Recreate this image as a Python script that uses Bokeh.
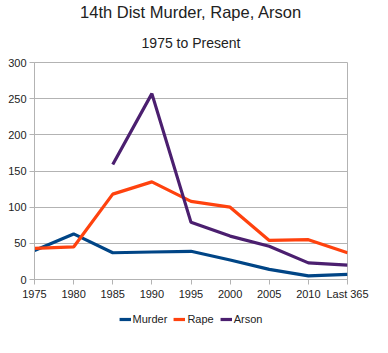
import math
from bokeh.plotting import figure
from bokeh.layouts import column
from bokeh.models import Title, Legend, LegendItem, FixedTicker, Range1d
from bokeh.embed import file_html
from bokeh.resources import INLINE

categories = ["1975", "1980", "1985", "1990", "1995", "2000", "2005", "2010", "Last 365"]
murder = [40, 63, 37, 38, 39, 27, 14, 5, 7]
rape = [43, 45, 118, 135, 108, 100, 54, 55, 37]
arson = [None, None, 159, 257, 79, 60, 46, 23, 20]
y_ticks = [0, 50, 100, 150, 200, 250, 300]
series_names = ["Murder", "Rape", "Arson"]
series_colors = ["#004586", "#ff420e", "#4b1f6f"]

xs = list(range(len(categories)))
arson_f = [float("nan") if v is None else v for v in arson]
series = [murder, rape, arson_f]

FONT = "Liberation Sans"
GRID = "#b3b3b3"
TXT = "#222222"

p = figure(width=388, height=308, output_backend="svg", toolbar_location=None,
           x_range=Range1d(0, len(categories) - 1), y_range=Range1d(0, 300),
           min_border_left=34, min_border_right=41, min_border_top=62, min_border_bottom=29,
           title_location=None)

p.add_layout(Title(text="1975 to Present", align="center", text_font=FONT,
                   text_font_size="14px", text_font_style="normal", text_color=TXT,
                   standoff=24, offset=0), "above")
p.add_layout(Title(text="14th Dist Murder, Rape, Arson", align="center", text_font=FONT,
                   text_font_size="16.5px", text_font_style="normal", text_color=TXT,
                   standoff=0, offset=0), "above")

for vals, col in zip(series, series_colors):
    p.line(xs, vals, line_color=col, line_width=3.2)

p.xaxis.ticker = FixedTicker(ticks=xs)
p.xaxis.major_label_overrides = {i: c for i, c in enumerate(categories)}
p.yaxis.ticker = FixedTicker(ticks=y_ticks)

for ax in (p.xaxis[0], p.yaxis[0]):
    ax.axis_line_color = GRID
    ax.major_tick_line_color = GRID
    ax.major_tick_out = 5
    ax.major_tick_in = 0
    ax.minor_tick_line_color = None
    ax.major_label_text_font = FONT
    ax.major_label_text_font_size = "11px"
    ax.major_label_text_color = TXT
    ax.major_label_standoff = 3

p.xgrid.grid_line_color = None
p.ygrid.grid_line_color = GRID
p.outline_line_color = GRID

# legend strip: same series drawn out of view, only the legend shows
lg = figure(width=388, height=45, output_backend="svg", toolbar_location=None,
            x_range=Range1d(0, len(categories) - 1), y_range=Range1d(1000, 1001),
            x_axis_location=None, y_axis_location=None,
            min_border_left=0, min_border_right=9, min_border_top=4, min_border_bottom=0,
            title_location=None)
lg.grid.grid_line_color = None
lg.outline_line_color = None
items = []
for name, vals, col in zip(series_names, series, series_colors):
    r = lg.line(xs, vals, line_color=col, line_width=3.2)
    items.append(LegendItem(label=name, renderers=[r]))

legend = Legend(items=items, orientation="horizontal", location="top_center",
                label_text_font=FONT, label_text_font_size="11px", label_text_color=TXT,
                glyph_width=12, glyph_height=12, label_height=14, label_standoff=2, spacing=6,
                padding=4, margin=0, border_line_color=None, background_fill_alpha=0)
lg.add_layout(legend, "center")

layout = column(p, lg, spacing=0)
open("out.html", "w").write(file_html(layout, INLINE))
